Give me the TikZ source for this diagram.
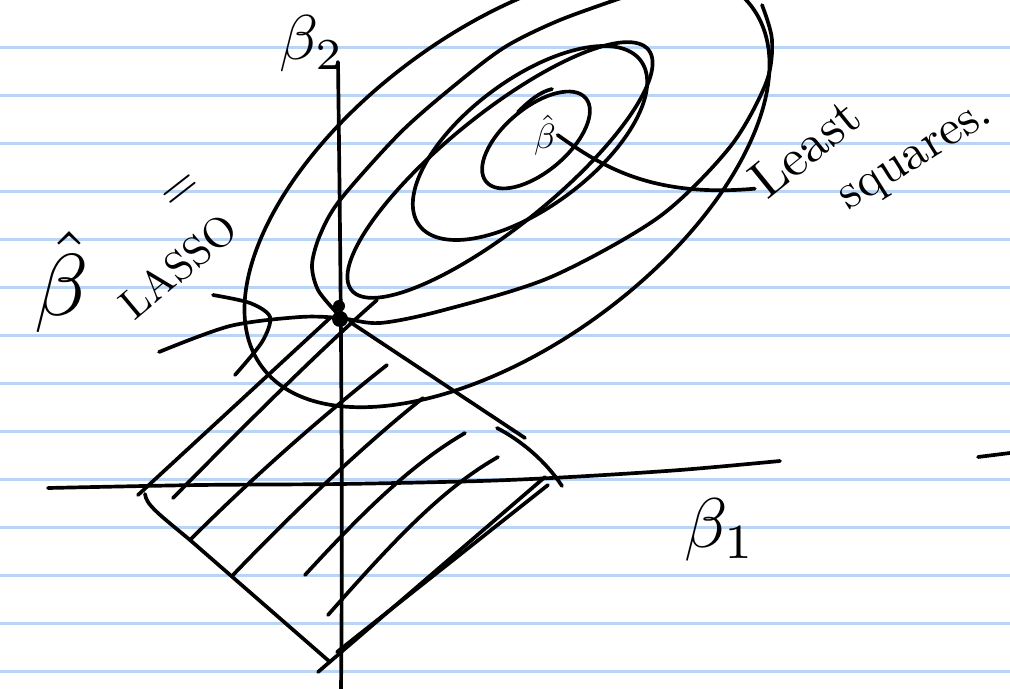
\documentclass[tikz,border=0pt]{standalone}
\usepackage{amsmath, amssymb}
\usepackage{tikz}
\usetikzlibrary{arrows.meta, positioning, calc}
\definecolor{ruled}{RGB}{186,212,247}

\begin{document}
\begin{tikzpicture}[x=0.02cm, y=-0.02cm, line cap=round, line join=round,
    pen/.style={line width=2.1pt, black},
    ruling/.style={line width=1.4pt, ruled},
    hand/.style={inner sep=0.3pt, black}]
    \useasboundingbox (0,0) rectangle (1010,689);
    \clip (0,0) rectangle (1010,689);
    % Ruled paper
    \foreach \k in {0,...,13}
        \draw[ruling] (0,{47.5+48*\k}) -- (1010,{47.5+48*\k});

    % Axes
    \draw[pen] plot[smooth] coordinates {(48,488) (200,485) (340,484) (480,481) (570,477) (680,470) (780,461)};
    \draw[pen] (338,62) .. controls (341,300) and (343,500) .. (341,689);
    \node[hand, scale=3.6] (b2) at (312,44) {$\beta_2$};
    \node[hand, scale=4.0] (b1) at (720,530) {$\beta_1$};
    \draw[pen] (978,457) -- (1010,453);

    % Diamond (lasso constraint)
    \draw[pen] (138,495) -- (330,318);
    \draw[pen] (350,322) -- (525,438);
    \draw[pen] (497,428) .. controls (520,440) and (545,460) .. (562,486);
    \draw[pen] (548,485) -- (337,652);
    \draw[pen] (545,477) -- (318,672);
    \draw[pen] (145,494) .. controls (146,505) and (160,515) .. (190,540) -- (330,662);
    % Hatching
    \draw[pen] (173,498) .. controls (250,420) and (320,350) .. (377,300);
    \draw[pen] (190,540) .. controls (260,470) and (330,410) .. (387,365);
    \draw[pen] (233,575) .. controls (300,505) and (370,440) .. (423,398);
    \draw[pen] (305,575) .. controls (360,515) and (410,465) .. (465,433);
    \draw[pen] (328,615) .. controls (390,545) and (440,490) .. (498,457);

    % Contours of the least squares loss
    \draw[pen, rotate around={40:(536,140)}] (536,140) ellipse [x radius=65, y radius=32];
    \draw[pen] (518,112) .. controls (530,100) and (540,92) .. (552,89);
    \draw[pen, rotate around={36.6:(530,143)}] (530,143) ellipse [x radius=138, y radius=64];
    \draw[pen, rotate around={39:(500,170)}] (500,170) ellipse [x radius=191, y radius=56];
    \draw[pen] plot[smooth] coordinates {(336,312) (318,290) (312,265) (320,235) (340,200) (400,133) (455,85) (505,47) (560,20) (630,-5)};
    \draw[pen] plot[smooth] coordinates {(159,352) (230,326) (300,317) (340,318) (380,323) (444,310) (551,277) (659,217) (730,147) (766,83) (772,40) (762,5)};
    \draw[pen, rotate around={36.2:(507,187)}] (507,187) ellipse [x radius=304, y radius=158];
    \draw[pen] plot[smooth] coordinates {(213,295) (250,303) (270,317) (262,342) (235,375)};

    % Lasso solution
    \fill (340,319) circle (8);
    \fill (339,306) circle (6);
    \node[inner sep=0pt] (lasso) at (340,318) {};

    % Labels
    \node[hand, scale=5.0] (bhat) at (62,282) {$\hat{\beta}$};
    \node[hand, rotate=40, scale=2.4] (lassotxt) at (178,266) {LASSO};
    \node[hand, rotate=38, scale=2.8] (eqmark) at (182,192) {$=$};
    \node[hand, scale=2.0] (bls) at (545,135) {$\hat{\beta}$};
    \node[hand, rotate=39, scale=3.0] (least) at (805,148) {Least};
    \node[hand, rotate=32, scale=2.8] (squares) at (918,160) {squares.};
    \draw[pen] (least.west) .. controls (650,198) and (600,165) .. (bls.east);
\end{tikzpicture}
\end{document}
